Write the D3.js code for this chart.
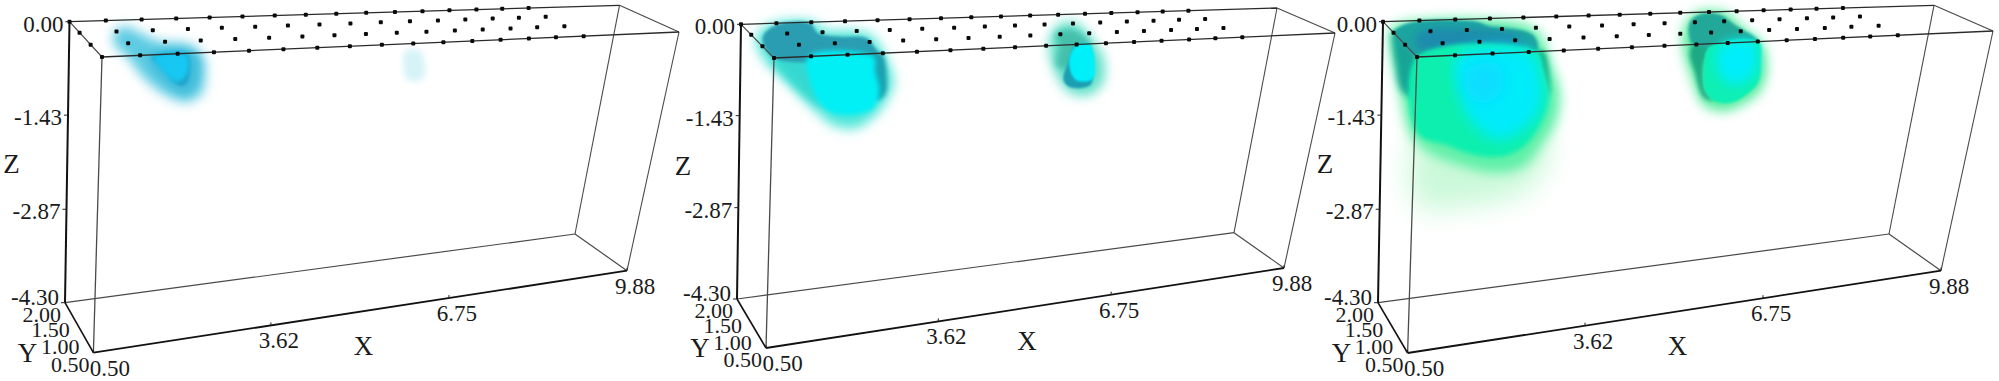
<!DOCTYPE html>
<html>
<head>
<meta charset="utf-8">
<script src="https://cdn.jsdelivr.net/npm/d3@7"></script>
<style>
  html, body { margin: 0; background: #fff; }
  text { font-family: "Liberation Serif", serif; fill: #1a1a1a; }
</style>
</head>
<body>
<div id="chart"></div>
<script>
// axis ticks
const xTicks = [0.5, 3.62, 6.75, 9.88];
const yTicks = [2.0, 1.5, 1.0, 0.5];
const zTicks = [0, -1.43, -2.87, -4.3];

// electrode positions on the surface (Z = 0)
const electrodeX = [0.5, 1.12, 1.73, 2.32, 2.89, 3.45, 4.0, 4.53, 5.05, 5.56, 6.05, 6.52, 6.98, 7.44, 7.88, 8.33];
const electrodeY = [2.0, 1.5, 1.0, 0.5];

// blob outlines, vertices are [X, Y, Z]
// left panel
const p1Glow = [[1.02,1.38,0],[1.31,1.72,0],[1.48,1.41,0],[1.62,1.03,0],[2.06,0.85,0],[2.15,0.5,-0.06],[2.2,0.5,-0.36],[2.16,0.5,-0.61],[1.94,0.5,-0.73],[1.57,0.5,-0.61],[1.18,0.5,-0.32],[0.9,0.5,0],[0.87,0.89,0]];
const p1Mid = [[1.25,0.5,0],[2.0,0.5,0],[2.08,0.5,-0.4],[1.9,0.5,-0.6],[1.55,0.5,-0.42]];
const p1Core = [[1.31,0.5,-0.05],[1.88,0.5,0],[1.93,0.5,-0.4],[1.83,0.5,-0.49],[1.69,0.5,-0.42],[1.48,0.5,-0.16]];
const p1CoreBright = [[1.34,0.5,-0.03],[1.87,0.5,-0.02],[1.9,0.5,-0.3],[1.74,0.5,-0.42],[1.45,0.5,-0.18]];
const p1Faint = [[5.44,0.5,-0.13],[5.67,0.5,-0.11],[5.81,0.5,-0.57],[5.54,0.5,-0.59]];

// middle panel
const p2Glow = [[0.54,1.38,0],[1.06,2,0],[1.77,2,0],[1.78,1.63,0],[2.46,1.34,0],[2.38,0.5,-0.08],[2.53,0.5,-0.45],[2.45,0.5,-0.7],[2.26,0.5,-0.95],[1.94,0.5,-1.13],[1.54,0.5,-1.06],[1.13,0.5,-0.73],[0.67,0.5,-0.31],[0.32,0.5,0]];
const p2Shade = [[0.5,0.5,0],[1.2,0.5,0],[1.35,0.5,-0.75],[1.0,0.5,-0.55]];
const p2Top = [[1.1,1.93,0],[1.69,1.95,0],[1.64,1.49,0],[1.88,1.3,0],[2.34,1.19,0],[2.32,0.88,0],[2.22,0.5,0],[0.5,0.5,0],[0.65,1.38,0]];
const p2Edge = [[2.1,0.5,0],[2.3,0.5,0],[2.42,0.5,-0.47],[2.39,0.5,-0.65],[2.25,0.5,-0.72],[2.1,0.5,-0.4]];
const p2Body = [[1.07,0.5,0],[2.17,0.5,-0.05],[2.21,0.5,-0.28],[2.3,0.5,-0.57],[2.21,0.5,-0.84],[1.88,0.5,-0.92],[1.53,0.5,-0.88],[1.28,0.5,-0.69],[1.12,0.5,-0.38]];
const p2RightGlow = [[5.21,0.7,0],[5.81,1.49,0],[6.11,1.53,0],[5.87,0.5,0],[6.04,0.5,-0.25],[6.09,0.5,-0.64],[5.89,0.5,-0.85],[5.55,0.5,-0.8],[5.28,0.5,-0.49]];
const p2RightTop = [[5.47,1.0,0],[5.87,1.19,0],[5.78,0.5,0],[5.4,0.5,-0.4],[5.25,0.5,-0.3],[5.28,0.5,0]];
const p2RightEdge = [[5.54,0.5,-0.02],[5.45,0.5,-0.3],[5.41,0.5,-0.58],[5.55,0.5,-0.71],[5.89,0.5,-0.67],[5.8,0.5,-0.3]];
const p2RightBody = [[5.54,0.5,-0.03],[5.78,0.5,0],[5.93,0.5,-0.47],[5.89,0.5,-0.6],[5.62,0.5,-0.59],[5.47,0.5,-0.3]];

// right panel
const p3Haze = [[0.5,0.5,-1.25],[2.7,0.5,-1.25],[2.64,0.5,-1.9],[2.21,0.5,-2.17],[1.36,0.5,-2.24],[0.63,0.5,-2.18]];
const p3Glow = [[0.5,1.65,0],[0.75,1.91,0],[2.15,2,0],[2.85,1.41,0],[2.72,0.5,-0.24],[2.88,0.5,-0.65],[2.86,0.5,-1.06],[2.66,0.5,-1.4],[2.35,0.5,-1.73],[1.9,0.5,-1.79],[1.34,0.5,-1.65],[0.66,0.5,-1.36],[0.42,0.5,-1.11],[0.24,0.5,-0.53]];
const p3Body = [[0.5,0.5,0],[2.45,0.5,0],[2.58,0.5,-0.33],[2.68,0.5,-0.59],[2.68,0.5,-0.85],[2.54,0.5,-1.19],[2.33,0.5,-1.43],[2.0,0.5,-1.55],[1.55,0.5,-1.5],[1.04,0.5,-1.31],[0.55,0.5,-1.11]];
const p3Cyan = [[1.15,0.5,-0.02],[2.34,0.5,0],[2.54,0.5,-0.38],[2.57,0.5,-0.84],[2.36,0.5,-1.13],[1.93,0.5,-1.3],[1.46,0.5,-1.02],[1.22,0.5,-0.56]];
const p3Deep = [[1.31,0.5,-0.23],[1.8,0.5,-0.15],[1.93,0.5,-0.55],[1.56,0.5,-0.73],[1.33,0.5,-0.52]];
const p3Side = [[0.5,1.5,0],[0.5,0.5,0],[0.5,0.5,-0.58],[0.5,1.08,-0.72],[0.5,1.37,-0.45]];
const p3Top = [[0.7,1.76,0],[1.06,1.97,0],[2.04,1.88,0],[2.16,1.64,0],[2.66,1.36,0],[2.69,1.08,0],[2.45,0.5,0],[0.5,0.5,0],[0.5,1.5,0]];
const p3TopDeep = [[0.92,1.47,0],[1.89,1.52,0],[2.45,1.15,0],[2.29,0.64,0],[1.03,0.62,0],[0.65,0.9,0]];
const p3Edge = [[2.45,0.5,0],[2.56,0.5,0],[2.69,0.5,-0.44],[2.7,0.5,-0.67],[2.58,0.5,-0.33]];
const p3RightGlow = [[4.83,0.5,0],[5.36,1.42,0],[5.85,2,0],[6.29,1.97,0],[6.17,1.17,0],[6.13,0.5,-0.06],[6.26,0.5,-0.5],[6.19,0.5,-0.83],[5.94,0.5,-1.02],[5.62,0.5,-1.11],[5.28,0.5,-0.98],[5.04,0.5,-0.54]];
const p3RightEdge = [[5.0,0.5,0],[5.27,0.5,-0.05],[5.21,0.5,-0.34],[5.28,0.5,-0.75],[5.43,0.5,-0.92],[5.26,0.5,-0.85],[5.07,0.5,-0.43],[4.96,0.5,-0.16]];
const p3RightTop = [[5.51,1.56,0],[5.85,1.9,0],[6.15,1.85,0],[6.13,1.34,0],[6.06,0.5,0],[5.0,0.5,0],[5.19,1.0,0]];
const p3RightBody = [[5.27,0.5,-0.05],[6.06,0.5,0],[6.14,0.5,-0.33],[6.15,0.5,-0.66],[5.98,0.5,-0.86],[5.72,0.5,-0.98],[5.43,0.5,-0.92],[5.28,0.5,-0.75],[5.21,0.5,-0.34]];
const p3RightCyan = [[5.43,0.5,-0.05],[5.98,0.5,0],[6.07,0.5,-0.49],[5.79,0.5,-0.69],[5.49,0.5,-0.51]];

// the three boxes: A/C back top, B/D front top, E/G back bottom, F/H front bottom
const boxes = [
  { A: [69.5, 21.7], C: [619.5, 5.3], B: [102, 57], D: [679, 32], E: [65, 302.7], G: [575, 234], F: [93.4, 352.7], H: [627, 270.7], xLabelDx: 270,
    layers: [
      { pts: p1Glow, fill: "#5ccbe2", blur: 6 },
      { pts: p1Mid, fill: "#3fbcdc", blur: 4 },
      { pts: p1Core, fill: "#22a4ca", blur: 1.5 },
      { pts: p1CoreBright, fill: "#14c8f2", blur: 2 },
      { pts: p1Faint, fill: "#d6f3f8", blur: 3 }
    ] },
  { A: [741, 24.3], C: [1277, 8], B: [774, 58], D: [1335, 33], E: [737, 299], G: [1234, 232.7], F: [766, 348], H: [1284, 268], xLabelDx: 261,
    layers: [
      { pts: p2Glow, fill: "#4fe6d8", blur: 6 },
      { pts: p2Shade, fill: "#35d8d0", blur: 5 },
      { pts: p2Top, fill: "#2b9db2", blur: 1.5 },
      { pts: p2Edge, fill: "#1aa0ae", blur: 2 },
      { pts: p2Body, fill: "#00f0f6", blur: 2.5 },
      { pts: p2RightGlow, fill: "#5ee0c8", blur: 6 },
      { pts: p2RightTop, fill: "#45c0ac", blur: 3 },
      { pts: p2RightEdge, fill: "#1e9fb2", blur: 0.8 },
      { pts: p2RightBody, fill: "#00f0fa", blur: 0.8 }
    ] },
  { A: [1383, 21.7], C: [1934, 5.3], B: [1417, 57], D: [1993, 31], E: [1378, 302.7], G: [1889, 234], F: [1407.6, 353], H: [1941, 270.7], xLabelDx: 270,
    layers: [
      { pts: p3Haze, fill: "#b4f6c8", blur: 14, opacity: 0.7 },
      { pts: p3Glow, fill: "#5ff0a8", blur: 6 },
      { pts: p3Side, fill: "#17a596", blur: 3 },
      { pts: p3Top, fill: "#1fa4a0", blur: 1.5 },
      { pts: p3TopDeep, fill: "#1b8bae", blur: 4 },
      { pts: p3Edge, fill: "#17a878", blur: 2.5 },
      { pts: p3Body, fill: "#0cefae", blur: 2 },
      { pts: p3Cyan, fill: "#00ecfb", blur: 7 },
      { pts: p3Deep, fill: "#0cdcff", blur: 8 },
      { pts: p3RightGlow, fill: "#55ec9e", blur: 6 },
      { pts: p3RightEdge, fill: "#1aa984", blur: 2 },
      { pts: p3RightTop, fill: "#24a898", blur: 1.5 },
      { pts: p3RightBody, fill: "#10efb4", blur: 1.2 },
      { pts: p3RightCyan, fill: "#00eefb", blur: 6 }
    ] }
];

const width = 1999;
const height = 381;

const svg = d3.select("#chart").append("svg")
  .attr("width", width)
  .attr("height", height)
  .style("display", "block");

// scales from data values to a position inside the box (0..1)
const xFrac = d3.scaleLinear().domain([0.5, 9.88]).range([0, 1]);
const yFrac = d3.scaleLinear().domain(yTicks).range([0, 0.31, 0.65, 1]);
const zFrac = d3.scaleLinear().domain([0, -4.3]).range([0, 1]);

function mix(p, q, t) {
  return [p[0] + (q[0] - p[0]) * t, p[1] + (q[1] - p[1]) * t];
}

// trilinear position between the eight corners of a box
function project(box, x, y, z) {
  const u = xFrac(x), v = yFrac(y), w = zFrac(z);
  const top = mix(mix(box.A, box.C, u), mix(box.B, box.D, u), v);
  const bottom = mix(mix(box.E, box.G, u), mix(box.F, box.H, u), v);
  return mix(top, bottom, w);
}

// one blur filter per radius
const defs = svg.append("defs");
const blurs = Array.from(new Set(boxes.flatMap(b => b.layers.map(l => l.blur))));
blurs.forEach(b => {
  defs.append("filter")
    .attr("id", "blur" + String(b).replace(".", "_"))
    .attr("x", "-80%").attr("y", "-80%")
    .attr("width", "260%").attr("height", "260%")
    .append("feGaussianBlur")
    .attr("stdDeviation", b);
});

function edge(g, p, q, color, w) {
  g.append("line")
    .attr("x1", p[0]).attr("y1", p[1])
    .attr("x2", q[0]).attr("y2", q[1])
    .attr("stroke", color)
    .attr("stroke-width", w);
}

boxes.forEach(box => {
  const g = svg.append("g");

  // volume blobs
  const blobLine = d3.line()
    .x(d => project(box, d[0], d[1], d[2])[0])
    .y(d => project(box, d[0], d[1], d[2])[1])
    .curve(d3.curveCatmullRomClosed.alpha(0.5));

  g.append("g").selectAll("path")
    .data(box.layers)
    .enter()
    .append("path")
    .attr("d", d => blobLine(d.pts))
    .attr("fill", d => d.fill)
    .attr("opacity", d => d.opacity || 1)
    .attr("filter", d => `url(#blur${String(d.blur).replace(".", "_")})`);

  // box edges
  const thin = "#4a4a4a";
  edge(g, box.E, box.G, thin, 1.2);
  edge(g, box.G, box.H, thin, 1.2);
  edge(g, box.C, box.G, thin, 1.1);
  edge(g, box.D, box.H, thin, 1.1);
  edge(g, box.B, box.F, thin, 1.3);
  edge(g, box.A, box.B, thin, 1.2);
  edge(g, box.C, box.D, thin, 1.2);
  edge(g, box.A, box.C, "#2a2a2a", 1.3);
  edge(g, box.B, box.D, "#2a2a2a", 1.3);
  edge(g, box.A, box.E, "#111", 2);
  edge(g, box.E, box.F, "#111", 1.6);
  edge(g, box.F, box.H, "#111", 1.8);

  // electrodes
  const electrodes = d3.cross(electrodeX, electrodeY);
  g.append("g").selectAll("rect")
    .data(electrodes)
    .enter()
    .append("rect")
    .attr("x", d => project(box, d[0], d[1], 0)[0] - 2)
    .attr("y", d => project(box, d[0], d[1], 0)[1] - 2)
    .attr("width", 4)
    .attr("height", 4)
    .attr("rx", 1)
    .attr("fill", "#0a0a0a");

  // Z axis, the lowest label sits level with its tick
  zTicks.forEach((t, i) => {
    const p = project(box, 0.5, 2, t);
    edge(g, [p[0] - 4, p[1]], p, "#222", 1);
    g.append("text")
      .attr("x", p[0] - 6)
      .attr("y", p[1] + (i === zTicks.length - 1 ? 2 : 10))
      .attr("text-anchor", "end")
      .style("font-size", "23px")
      .text(t.toFixed(2));
  });

  // Y axis
  yTicks.forEach(t => {
    const p = project(box, 0.5, t, -4.3);
    g.append("text")
      .attr("x", p[0] - 4)
      .attr("y", p[1] + 19)
      .attr("text-anchor", "end")
      .style("font-size", "22px")
      .text(t.toFixed(2));
  });

  // X axis
  xTicks.forEach((t, i) => {
    const p = project(box, t, 0.5, -4.3);
    edge(g, [p[0], p[1] - 3], p, "#222", 1);
    g.append("text")
      .attr("x", p[0] + (i === 0 ? 16.5 : 8))
      .attr("y", p[1] + 23)
      .attr("text-anchor", "middle")
      .style("font-size", "23px")
      .text(t.toFixed(2));
  });

  // axis names
  g.append("text")
    .attr("x", box.A[0] - 58)
    .attr("y", box.A[1] + 151)
    .attr("text-anchor", "middle")
    .style("font-size", "27px")
    .text("Z");
  g.append("text")
    .attr("x", box.F[0] + box.xLabelDx)
    .attr("y", box.F[1] + 2)
    .attr("text-anchor", "middle")
    .style("font-size", "27px")
    .text("X");
  g.append("text")
    .attr("x", box.F[0] - 66)
    .attr("y", box.F[1] + 9)
    .attr("text-anchor", "middle")
    .style("font-size", "27px")
    .text("Y");
});
</script>
</body>
</html>
